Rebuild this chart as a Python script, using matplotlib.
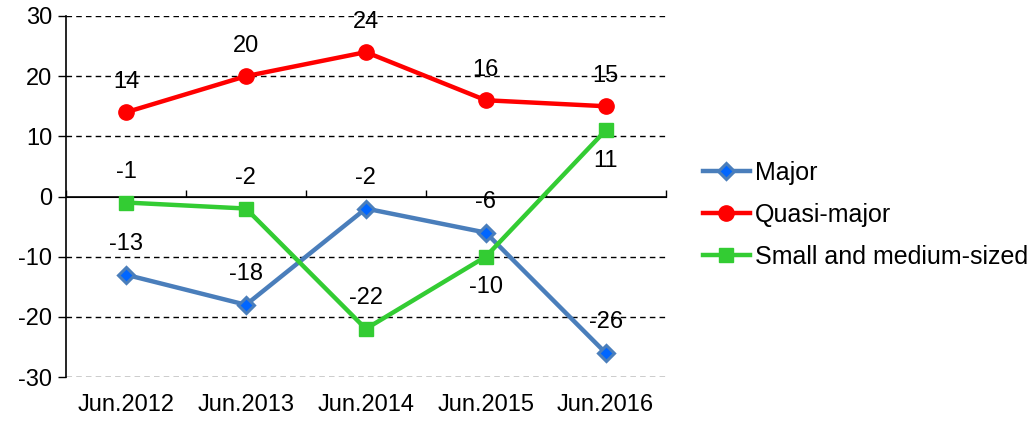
import matplotlib.pyplot as plt
import numpy as np

plt.rcParams['font.family'] = ['Liberation Sans', 'DejaVu Sans']
plt.rcParams['axes.unicode_minus'] = False

categories = ["Jun.2012", "Jun.2013", "Jun.2014", "Jun.2015", "Jun.2016"]
major = [-13, -18, -2, -6, -26]
quasi_major = [14, 20, 24, 16, 15]
small_medium = [-1, -2, -22, -10, 11]
# label above (+1) or below (-1) the point
major_side = [1, 1, 1, 1, 1]
quasi_side = [1, 1, 1, 1, 1]
small_side = [1, 1, 1, -1, -1]

fig = plt.figure(figsize=(10.32, 4.21), dpi=100)
ax = fig.add_axes([0.064, 0.1045, 0.581, 0.8575])

x = np.arange(len(categories))

ax.plot(x, major, color="#4A7EBB", lw=3.2, marker="D", ms=8,
        mfc="#0066FF", mec="#4A7EBB", mew=2.2, label="Major", zorder=3)
ax.plot(x, quasi_major, color="#FF0000", lw=3.2, marker="o", ms=11,
        mfc="#FF0000", mec="#FF0000", label="Quasi-major", zorder=3)
ax.plot(x, small_medium, color="#33CC33", lw=3.2, marker="s", ms=9.5,
        mfc="#33CC33", mec="#33CC33", label="Small and medium-sized", zorder=3)

for vals, sides in [(major, major_side), (quasi_major, quasi_side),
                    (small_medium, small_side)]:
    for xi, v, s in zip(x, vals, sides):
        ax.annotate(str(v), (xi, v), xytext=(0, 22 * s), textcoords="offset points",
                    ha="center", va="center", fontsize=17)

ax.set_xlim(-0.5, len(categories) - 0.5)
ax.set_ylim(-30, 30)
ax.set_yticks(range(-30, 31, 10))
ax.set_xticks(x)
ax.set_xticklabels(categories)
ax.tick_params(axis="x", length=0, labelsize=17, pad=12)
ax.tick_params(axis="y", length=6, width=1, labelsize=17, pad=4)

for yv in range(-30, 31, 10):
    if yv == 0:
        ax.axhline(0, color="black", lw=1.2, zorder=2)
    else:
        ax.axhline(yv, color="black", lw=1, ls=(0, (4, 3)), zorder=1)

for side in ["top", "right", "bottom"]:
    ax.spines[side].set_visible(False)
ax.spines["left"].set_linewidth(1.2)

sec = ax.secondary_xaxis(0.5)
sec.set_xticks(np.arange(len(categories) + 1) - 0.5)
sec.set_xticklabels([])
sec.tick_params(length=5, width=1, direction="out")
sec.spines["bottom"].set_visible(False)

ax.legend(loc="center left", bbox_to_anchor=(1.045, 0.45), frameon=False,
          fontsize=18, handlelength=1.9, handletextpad=0.2, labelspacing=0.72,
          borderaxespad=0)

fig.savefig("out.png", dpi=100)
